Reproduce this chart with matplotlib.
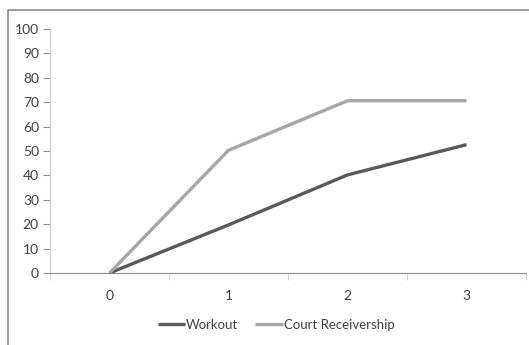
import matplotlib
matplotlib.use("Agg")
import matplotlib.pyplot as plt
from matplotlib.patches import Rectangle

# series values per period
periods = [0, 1, 2, 3]
workout = [0, 19.7, 40.2, 52.6]
court = [0, 50.3, 70.6, 70.6]
y_ticks = list(range(0, 101, 10))

plt.rcParams['font.family'] = ['Lato', 'DejaVu Sans']

fig = plt.figure(figsize=(5.29, 3.45), dpi=100)
W, H = 529, 345
ax = fig.add_axes([50 / W, 1 - 273 / H, (526 - 50) / W, (273 - 29) / H])

ax.plot(periods, workout, color='#595959', lw=2.4, label='Workout', solid_capstyle='butt')
ax.plot(periods, court, color='#a6a6a6', lw=2.4, label='Court Receivership', solid_capstyle='butt')

ax.set_xlim(-0.5, 3.5)
ax.set_ylim(0, 100)
ax.set_yticks(y_ticks)
ax.set_xticks(periods)
ax.set_xticks([-0.5, 0.5, 1.5, 2.5, 3.5], minor=True)

for s in ['top', 'right']:
    ax.spines[s].set_visible(False)
ax.spines['left'].set_color('#d0d0d0')
ax.spines['bottom'].set_color('#8c8c8c')
ax.spines['left'].set_bounds(0, 100)

ax.tick_params(axis='y', length=5, color='#8c8c8c', labelsize=10, labelcolor='#404040', pad=3)
ax.tick_params(axis='x', which='major', length=0, labelsize=10, labelcolor='#404040', pad=12)
ax.tick_params(axis='x', which='minor', length=5, color='#d0d0d0', direction='out')

leg = fig.legend(loc='center', bbox_to_anchor=(276 / W, 1 - 325 / H), ncol=2, frameon=False,
                 fontsize=9.5, handlelength=2.1, handletextpad=0.05, columnspacing=1.3)
for t in leg.get_texts():
    t.set_color('#404040')

# chart frame
fig.patches.append(Rectangle((8 / W, -0.1), 1.2, 1 - 10 / H + 0.1, transform=fig.transFigure,
                             fill=False, edgecolor='#8c8c8c', lw=1.2))

fig.savefig('out.png', dpi=100)
